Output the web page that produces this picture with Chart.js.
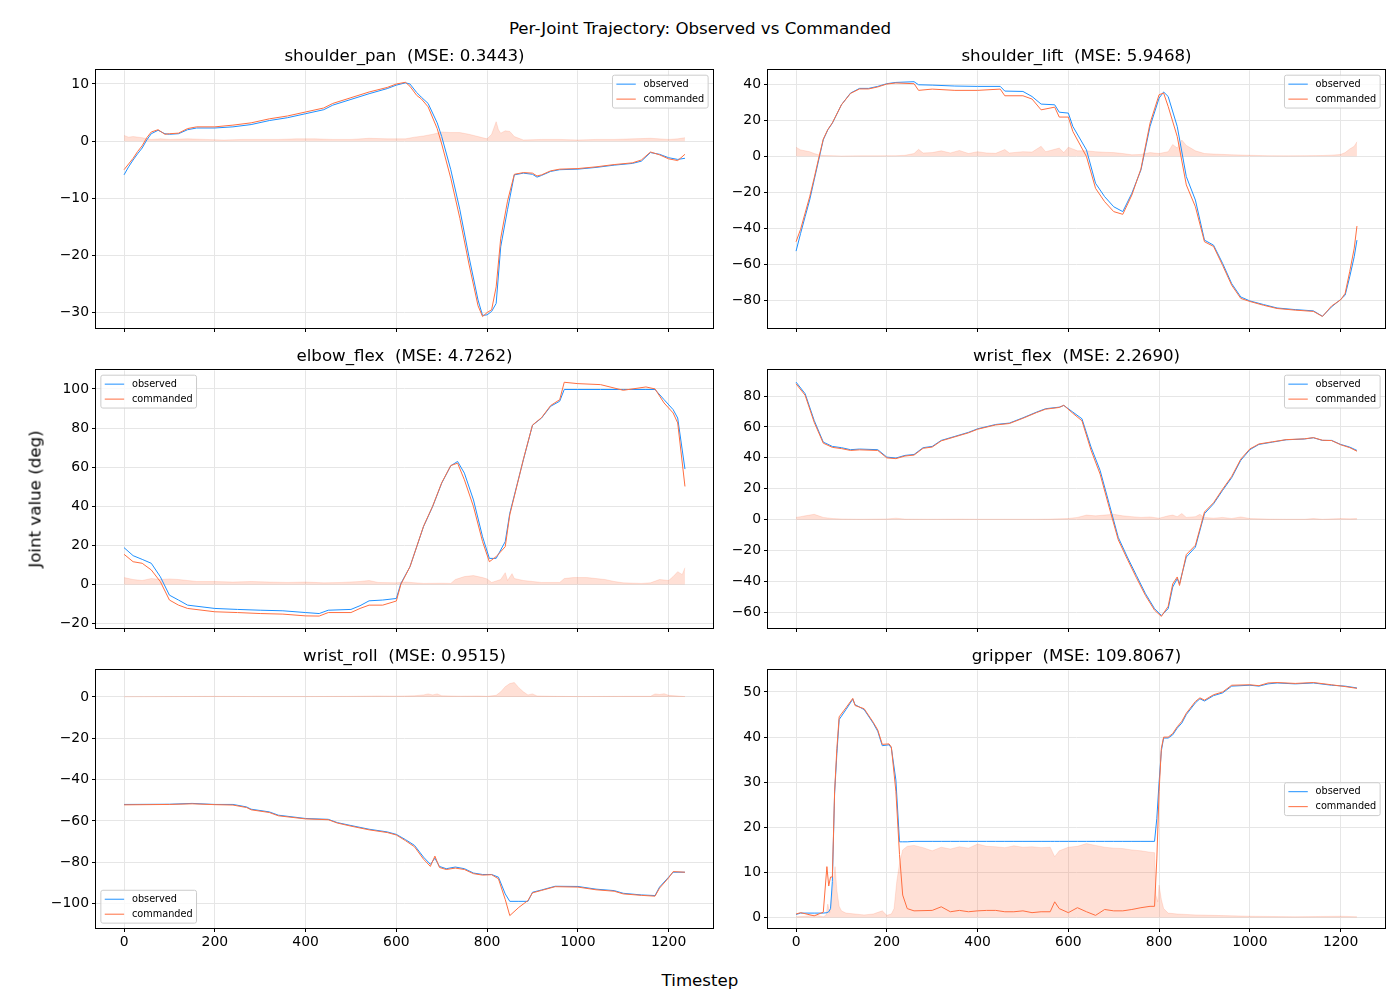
<!DOCTYPE html>
<html>
<head>
<meta charset="utf-8">
<script src="https://cdn.jsdelivr.net/npm/chart.js@4.4.1/dist/chart.umd.min.js"></script>
<style>
body { margin: 0; background: #fff; width: 1400px; height: 1000px; position: relative; overflow: hidden; font-family: "DejaVu Sans", sans-serif; }
canvas { position: absolute; }
.txt { position: absolute; white-space: pre; font-size: 16.67px; color: #000; transform: translate(-50%, -50%); z-index: 5; }
</style>
</head>
<body>
<div class="txt" style="left:700px; top:28px;">Per-Joint Trajectory: Observed vs Commanded</div>
<div class="txt" style="left:700px; top:980px;">Timestep</div>
<div class="txt" style="left:35px; top:499px; transform: translate(-50%, -50%) rotate(-90deg);">Joint value (deg)</div>
<script>
// ---- data ----
const xTicks = [0, 200, 400, 600, 800, 1000, 1200];

const panT = [0, 10, 20, 30, 40, 50, 60, 75, 90, 100, 120, 140, 160, 200, 240, 280, 320, 360, 400, 440, 460, 500, 540, 580, 600, 620, 630, 645, 655, 670, 690, 700, 720, 740, 760, 780, 790, 800, 810, 820, 830, 845, 860, 880, 900, 910, 920, 940, 960, 1000, 1040, 1080, 1120, 1140, 1160, 1180, 1200, 1220, 1236];
const panObs = [-5.9, -4.5, -3.3, -2.2, -1.2, 0.2, 1.3, 1.9, 1.3, 1.2, 1.3, 2.0, 2.3, 2.3, 2.5, 2.9, 3.6, 4.1, 4.8, 5.5, 6.3, 7.3, 8.3, 9.2, 9.8, 10.2, 10.0, 8.5, 7.7, 6.6, 3.2, 0.8, -5.0, -12.0, -20.2, -27.8, -30.5, -30.4, -29.8, -28.4, -18.5, -12.0, -5.9, -5.6, -5.8, -6.3, -6.0, -5.3, -5.0, -4.9, -4.6, -4.2, -3.9, -3.5, -2.0, -2.3, -2.9, -3.2, -3.0];
const panCmd = [-5.0, -4.0, -3.0, -1.8, -0.8, 0.6, 1.6, 2.0, 1.2, 1.3, 1.4, 2.2, 2.5, 2.5, 2.8, 3.2, 3.9, 4.4, 5.1, 5.8, 6.6, 7.6, 8.6, 9.4, 10.0, 10.3, 9.6, 8.0, 7.4, 6.0, 2.2, -0.5, -6.5, -13.5, -21.5, -28.8, -30.7, -30.0, -29.5, -25.5, -17.0, -10.5, -5.8, -5.5, -5.6, -6.1, -5.9, -5.2, -4.9, -4.8, -4.5, -4.1, -3.8, -3.3, -1.9, -2.4, -3.1, -3.4, -2.3];
const panErrT = [0, 10, 20, 40, 60, 80, 100, 140, 180, 220, 260, 300, 340, 380, 420, 460, 500, 540, 580, 620, 640, 660, 680, 700, 720, 740, 760, 780, 800, 810, 820, 825, 830, 840, 850, 860, 880, 920, 960, 1000, 1040, 1080, 1120, 1160, 1200, 1220, 1236];
const panErr = [1.0, 0.7, 0.8, 0.6, 0.3, 0.4, 0.3, 0.4, 0.3, 0.2, 0.3, 0.3, 0.3, 0.4, 0.4, 0.3, 0.3, 0.5, 0.4, 0.4, 0.7, 0.9, 1.2, 1.6, 1.5, 1.5, 1.2, 0.8, 0.4, 1.2, 3.4, 2.0, 1.4, 1.8, 1.7, 0.8, 0.2, 0.3, 0.3, 0.2, 0.3, 0.3, 0.4, 0.5, 0.3, 0.4, 0.6];

const liftT = [0, 10, 20, 30, 40, 50, 60, 70, 80, 100, 120, 140, 160, 180, 200, 220, 260, 270, 300, 350, 400, 450, 460, 500, 520, 540, 570, 580, 600, 610, 640, 660, 680, 700, 720, 740, 760, 780, 800, 810, 820, 840, 860, 880, 900, 920, 940, 960, 980, 1000, 1030, 1060, 1100, 1140, 1160, 1180, 1200, 1210, 1220, 1230, 1236];
const liftObs = [-52.6, -42.8, -33.5, -24.3, -13.1, -2.0, 9.1, 14.6, 18.3, 28.5, 35.0, 37.6, 37.6, 38.7, 40.2, 40.9, 41.3, 39.6, 39.4, 38.9, 38.7, 38.7, 36.1, 35.9, 33.1, 28.9, 28.5, 24.4, 23.9, 16.5, 3.5, -15.0, -22.4, -28.0, -30.7, -20.5, -7.6, 16.5, 32.2, 35.6, 33.1, 16.5, -11.3, -24.3, -46.5, -49.3, -59.4, -70.6, -78.0, -80.2, -82.2, -84.1, -85.0, -85.7, -88.7, -83.5, -79.4, -77.0, -66.9, -55.7, -46.5];
const liftCmd = [-47.4, -40.5, -31.5, -22.5, -12.0, -1.0, 9.5, 14.8, 18.5, 28.5, 34.8, 37.3, 37.3, 38.4, 40.0, 40.6, 40.2, 36.5, 37.2, 36.5, 36.5, 37.2, 33.5, 33.5, 31.7, 25.7, 27.2, 21.7, 21.7, 13.7, -0.2, -17.8, -25.2, -30.7, -32.2, -21.5, -7.0, 18.3, 34.1, 35.0, 27.6, 10.9, -15.9, -28.0, -47.4, -50.0, -60.5, -71.5, -78.8, -80.5, -82.6, -84.4, -85.3, -86.0, -88.8, -83.0, -79.6, -76.0, -64.0, -51.0, -38.7];
const liftErrT = [0, 10, 20, 30, 40, 50, 60, 80, 100, 140, 180, 220, 240, 260, 270, 280, 300, 320, 340, 360, 380, 400, 420, 440, 460, 470, 500, 520, 540, 550, 580, 590, 600, 620, 640, 660, 680, 700, 720, 740, 760, 780, 800, 820, 830, 840, 850, 860, 870, 880, 900, 920, 960, 1000, 1040, 1080, 1120, 1160, 1180, 1200, 1210, 1220, 1230, 1236];
const liftErr = [5.0, 3.5, 3.0, 2.5, 1.5, 0.8, 0.4, 0.3, 0.1, 0.2, 0.2, 0.3, 0.5, 1.5, 3.8, 1.8, 2.0, 3.0, 1.8, 3.2, 1.5, 2.5, 1.8, 1.6, 3.7, 1.8, 2.5, 2.3, 5.5, 2.5, 4.5, 2.0, 5.0, 3.0, 3.0, 2.5, 2.2, 2.0, 1.5, 0.8, 1.0, 2.0, 1.5, 2.5, 6.5, 4.5, 9.0, 6.0, 4.5, 3.0, 1.5, 1.2, 0.8, 0.5, 0.3, 0.2, 0.3, 0.4, 0.6, 1.0, 2.0, 4.0, 5.5, 8.0];

const elbowT = [0, 20, 40, 60, 80, 100, 120, 140, 200, 250, 300, 350, 400, 430, 450, 500, 520, 540, 570, 600, 610, 630, 660, 680, 700, 720, 735, 750, 770, 790, 805, 820, 840, 850, 880, 900, 920, 940, 960, 970, 1000, 1050, 1100, 1150, 1170, 1190, 1210, 1220, 1236];
const elbowObs = [18.8, 14.7, 12.8, 10.8, 3.9, -5.5, -8.0, -10.6, -12.3, -12.8, -13.2, -13.5, -14.4, -14.9, -13.2, -12.8, -10.9, -8.4, -8.0, -7.2, 0.5, 9.0, 29.6, 39.8, 51.8, 60.7, 62.9, 56.9, 43.2, 24.4, 13.3, 13.3, 21.9, 36.4, 63.8, 81.4, 85.1, 91.1, 93.7, 99.7, 99.7, 99.7, 99.7, 99.7, 99.7, 94.5, 89.4, 85.1, 59.0];
const elbowCmd = [15.4, 11.6, 10.8, 7.4, 1.4, -8.0, -10.6, -12.3, -14.0, -14.4, -14.9, -15.2, -16.1, -16.2, -14.4, -14.4, -12.3, -10.6, -10.6, -8.5, 0.0, 9.0, 29.8, 40.0, 52.0, 60.8, 62.0, 53.5, 39.8, 21.9, 11.6, 14.2, 19.3, 35.6, 64.0, 81.5, 85.3, 91.5, 94.5, 103.4, 102.7, 102.2, 99.3, 101.0, 100.0, 92.8, 87.7, 82.6, 50.1];
const elbowErrT = [0, 20, 40, 60, 80, 100, 120, 140, 160, 200, 240, 280, 320, 360, 400, 440, 480, 520, 540, 560, 600, 620, 660, 700, 720, 730, 750, 770, 790, 800, 810, 830, 840, 845, 855, 860, 880, 900, 920, 960, 970, 990, 1020, 1040, 1060, 1080, 1100, 1140, 1160, 1180, 1200, 1210, 1220, 1230, 1236];
const elbowErr = [3.5, 2.5, 2.0, 3.0, 2.5, 2.8, 2.5, 2.0, 1.5, 1.5, 1.2, 1.5, 1.2, 1.0, 1.2, 0.8, 1.0, 1.5, 2.0, 1.0, 0.8, 1.2, 0.5, 0.6, 0.5, 2.5, 4.0, 4.5, 3.5, 2.8, 1.0, 2.5, 6.0, 2.0, 5.5, 3.0, 2.0, 1.5, 1.0, 1.0, 3.0, 3.5, 3.5, 3.0, 2.5, 1.5, 0.8, 0.5, 0.8, 2.5, 2.0, 4.0, 6.5, 5.0, 8.5];

const wflexT = [0, 20, 40, 60, 80, 100, 120, 140, 180, 200, 220, 240, 260, 280, 300, 320, 350, 380, 400, 440, 470, 500, 530, 550, 580, 590, 610, 630, 650, 670, 690, 710, 730, 750, 770, 790, 805, 820, 830, 840, 845, 860, 880, 900, 920, 940, 960, 980, 1000, 1020, 1050, 1080, 1120, 1140, 1160, 1180, 1200, 1220, 1236];
const wflexObs = [89.0, 81.5, 64.2, 50.2, 47.4, 46.6, 45.3, 45.7, 45.3, 40.5, 39.9, 41.6, 42.2, 46.6, 47.4, 51.3, 53.9, 56.5, 58.8, 61.6, 62.5, 65.9, 69.6, 71.8, 72.8, 73.9, 69.6, 65.3, 47.0, 31.9, 10.3, -11.4, -24.1, -36.0, -47.8, -57.5, -61.9, -57.5, -43.5, -38.1, -41.4, -24.1, -17.7, 3.9, 10.3, 19.0, 27.2, 38.4, 45.3, 48.7, 50.2, 51.7, 52.2, 53.0, 51.3, 51.3, 48.7, 47.0, 44.8];
const wflexCmd = [87.9, 80.5, 63.0, 49.5, 46.8, 46.0, 44.8, 45.2, 44.8, 40.0, 39.5, 41.2, 41.8, 46.2, 47.0, 51.0, 53.6, 56.2, 58.5, 61.3, 62.2, 65.6, 69.3, 71.5, 72.6, 74.0, 68.8, 64.0, 45.0, 29.5, 8.0, -13.0, -25.5, -37.5, -49.0, -58.5, -62.5, -56.0, -41.5, -37.0, -42.5, -22.5, -16.5, 5.0, 11.0, 19.8, 28.0, 39.2, 45.8, 49.0, 50.4, 51.8, 52.3, 53.1, 51.4, 51.2, 48.5, 46.6, 44.3];
const wflexErrT = [0, 10, 20, 30, 40, 50, 60, 80, 100, 140, 200, 220, 240, 300, 360, 400, 460, 520, 560, 600, 620, 640, 660, 680, 700, 720, 740, 760, 780, 800, 820, 830, 840, 850, 860, 880, 890, 900, 920, 940, 960, 980, 1000, 1040, 1080, 1120, 1140, 1160, 1200, 1220, 1236];
const wflexErr = [1.5, 2.0, 2.5, 3.0, 3.5, 2.5, 1.5, 0.8, 0.5, 0.3, 0.5, 1.0, 0.4, 0.3, 0.4, 0.3, 0.3, 0.3, 0.4, 0.8, 1.5, 3.0, 2.5, 3.0, 3.5, 2.5, 2.0, 1.5, 1.8, 1.0, 2.5, 3.0, 2.0, 4.0, 1.5, 2.0, 3.5, 1.5, 1.0, 1.5, 0.8, 1.8, 0.8, 0.4, 0.3, 0.3, 0.8, 0.3, 0.8, 0.6, 0.8];

const wrollT = [0, 100, 150, 200, 240, 270, 280, 320, 340, 400, 450, 470, 500, 540, 580, 600, 620, 640, 660, 675, 685, 695, 710, 730, 750, 770, 790, 810, 825, 840, 850, 870, 890, 900, 920, 950, 1000, 1040, 1080, 1100, 1140, 1170, 1180, 1200, 1210, 1236];
const wrollObs = [-52.0, -51.9, -51.5, -52.0, -52.0, -53.2, -54.3, -55.6, -57.2, -58.8, -59.2, -60.8, -62.2, -64.0, -65.3, -66.5, -69.0, -71.8, -77.5, -81.0, -78.0, -82.0, -83.1, -82.3, -83.1, -85.2, -85.9, -85.9, -87.2, -95.3, -98.9, -98.9, -98.9, -94.5, -93.4, -91.6, -91.7, -93.0, -93.7, -95.0, -95.8, -96.1, -92.0, -87.2, -84.8, -84.8];
const wrollCmd = [-52.2, -52.0, -51.7, -52.1, -52.3, -53.5, -54.6, -55.9, -57.5, -59.0, -59.4, -61.0, -62.5, -64.3, -65.6, -66.8, -69.5, -72.5, -78.5, -82.0, -77.0, -82.5, -83.5, -82.8, -83.5, -85.5, -86.2, -86.0, -88.0, -98.0, -105.8, -101.8, -98.5, -94.8, -93.6, -91.8, -92.0, -93.3, -94.0, -95.3, -96.0, -96.4, -92.5, -87.5, -84.5, -84.8];
const wrollErrT = [0, 100, 200, 300, 400, 500, 560, 600, 640, 660, 670, 680, 690, 700, 740, 780, 800, 820, 830, 840, 850, 860, 870, 880, 890, 900, 910, 950, 1000, 1100, 1160, 1170, 1180, 1190, 1200, 1236];
const wrollErr = [0.1, 0.2, 0.3, 0.2, 0.2, 0.3, 0.5, 0.4, 0.6, 1.0, 1.5, 1.0, 1.5, 0.6, 0.4, 0.5, 0.3, 0.8, 2.5, 5.0, 6.5, 7.0, 4.5, 2.5, 1.0, 1.5, 0.5, 0.3, 0.2, 0.3, 0.3, 1.5, 1.2, 1.6, 0.8, 0.2];

const gripT = [0, 10, 40, 60, 68, 72, 76, 80, 85, 90, 95, 110, 125, 130, 150, 170, 180, 190, 205, 210, 220, 228, 235, 245, 260, 300, 320, 340, 360, 380, 400, 420, 440, 460, 480, 500, 520, 540, 560, 570, 580, 600, 620, 640, 660, 680, 700, 720, 740, 760, 780, 790, 795, 800, 805, 810, 820, 830, 840, 850, 860, 880, 890, 900, 920, 940, 960, 1000, 1020, 1040, 1060, 1100, 1140, 1180, 1210, 1236];
const gripObs = [0.7, 1.0, 1.0, 1.0, 1.1, 1.3, 2.0, 8.0, 27.6, 36.4, 43.9, 46.1, 48.4, 47.2, 46.1, 43.1, 41.3, 38.1, 38.3, 37.6, 30.5, 16.8, 16.8, 16.8, 16.9, 16.9, 16.9, 16.9, 16.9, 16.9, 16.9, 16.9, 16.9, 16.9, 16.9, 16.9, 16.9, 16.9, 16.9, 16.9, 16.9, 16.9, 16.9, 16.9, 16.9, 16.9, 16.9, 16.9, 16.9, 16.9, 16.9, 16.9, 22.0, 30.0, 37.0, 39.8, 39.8, 40.5, 42.0, 43.1, 45.0, 47.6, 48.5, 48.0, 49.2, 49.8, 51.3, 51.5, 51.3, 51.8, 52.0, 51.8, 52.0, 51.5, 51.3, 50.9];
const gripCmd = [0.8, 1.1, 0.4, 1.2, 11.3, 7.0, 9.0, 9.0, 28.0, 37.5, 44.5, 46.5, 48.6, 47.0, 46.3, 43.3, 41.6, 38.4, 38.5, 37.8, 28.0, 14.0, 5.0, 2.0, 1.5, 1.6, 2.4, 1.3, 1.6, 1.3, 1.5, 1.6, 1.6, 1.3, 1.3, 1.5, 1.1, 1.3, 1.3, 3.5, 2.0, 1.1, 2.2, 1.3, 0.5, 1.8, 1.5, 1.5, 1.8, 2.2, 2.5, 2.5, 13.0, 28.0, 37.5, 40.0, 40.0, 40.8, 42.3, 43.5, 45.3, 47.9, 48.7, 48.2, 49.4, 50.0, 51.5, 51.6, 51.4, 52.0, 52.1, 51.9, 52.1, 51.6, 51.2, 50.8];
const gripErrT = [0, 20, 40, 60, 66, 70, 74, 78, 82, 86, 90, 95, 100, 110, 130, 150, 170, 190, 200, 210, 216, 222, 228, 235, 245, 260, 280, 300, 320, 340, 360, 380, 400, 420, 440, 460, 480, 500, 520, 540, 560, 570, 580, 600, 620, 640, 660, 680, 700, 720, 740, 760, 780, 790, 793, 797, 800, 805, 810, 820, 840, 880, 920, 960, 1000, 1100, 1200, 1236];
const gripErr = [0.2, 0.3, 0.6, 0.2, 0.5, 3.0, 1.0, 4.0, 8.0, 11.3, 6.0, 2.5, 1.5, 1.0, 0.8, 0.6, 0.8, 1.5, 0.5, 0.8, 2.0, 8.0, 12.0, 15.0, 15.8, 16.0, 15.5, 14.8, 15.6, 15.2, 15.7, 15.4, 16.3, 15.8, 15.7, 15.5, 15.9, 15.6, 15.7, 15.5, 15.6, 13.5, 14.8, 15.6, 15.8, 16.4, 16.0, 15.6, 15.4, 15.3, 15.0, 14.8, 14.5, 14.4, 5.0, 3.5, 7.2, 4.0, 2.0, 1.0, 0.8, 0.6, 0.5, 0.4, 0.3, 0.2, 0.3, 0.2];

const BLUE = '#1E90FF';
const ORANGE = '#FF6E40';
const FILL = 'rgba(255,112,67,0.22)';
const FONT = '"DejaVu Sans", sans-serif';

const colL = [96, 768];
const rowT = [70, 370, 670];
const AW = 617, AH = 258;
const YW = 60, PADT = 4, PADR = 6, XH = 30;

const panels = [
  { title: 'shoulder_pan  (MSE: 0.3443)', t: panT, obs: panObs, cmd: panCmd, et: panErrT, err: panErr, yMin: -32.7, yMax: 12.39, yTicks: [-30, -20, -10, 0, 10], loc: 'upper right', col: 0, row: 0 },
  { title: 'shoulder_lift  (MSE: 5.9468)', t: liftT, obs: liftObs, cmd: liftCmd, et: liftErrT, err: liftErr, yMin: -95.2, yMax: 47.6, yTicks: [-80, -60, -40, -20, 0, 20, 40], loc: 'upper right', col: 1, row: 0 },
  { title: 'elbow_flex  (MSE: 4.7262)', t: elbowT, obs: elbowObs, cmd: elbowCmd, et: elbowErrT, err: elbowErr, yMin: -22.3, yMax: 109.5, yTicks: [-20, 0, 20, 40, 60, 80, 100], loc: 'upper left', col: 0, row: 1 },
  { title: 'wrist_flex  (MSE: 2.2690)', t: wflexT, obs: wflexObs, cmd: wflexCmd, et: wflexErrT, err: wflexErr, yMin: -70, yMax: 96.6, yTicks: [-60, -40, -20, 0, 20, 40, 60, 80], loc: 'upper right', col: 1, row: 1 },
  { title: 'wrist_roll  (MSE: 0.9515)', t: wrollT, obs: wrollObs, cmd: wrollCmd, et: wrollErrT, err: wrollErr, yMin: -111.8, yMax: 12.9, yTicks: [-100, -80, -60, -40, -20, 0], loc: 'lower left', col: 0, row: 2 },
  { title: 'gripper  (MSE: 109.8067)', t: gripT, obs: gripObs, cmd: gripCmd, et: gripErrT, err: gripErr, yMin: -2.3, yMax: 54.8, yTicks: [0, 10, 20, 30, 40, 50], loc: 'center right', col: 1, row: 2 },
];

function pts(xs, ys) { return xs.map((x, i) => ({ x: x, y: ys[i] })); }
function fmt(v) { return v < 0 ? '\u2212' + Math.abs(v) : String(v); }

const framePlugin = {
  id: 'frame',
  afterDraw(chart) {
    const { ctx, chartArea: a } = chart;
    ctx.save();
    ctx.strokeStyle = '#000';
    ctx.lineWidth = 1;
    ctx.strokeRect(Math.round(a.left) - 0.5, Math.round(a.top) - 0.5, Math.round(a.right - a.left) + 1, Math.round(a.bottom - a.top) + 1);
    ctx.restore();

    // legend box, matplotlib style
    const loc = chart.options.plugins.miniLegend.loc;
    const fs = 9.72, pad = 3.9, hl = 19.4, htp = 7.8, rowH = 10.1, sp = 4.86, bap = 4.86;
    ctx.save();
    ctx.font = fs + 'px ' + FONT;
    const items = chart.data.datasets.slice(0, 2);
    const tw = Math.max(...items.map(d => ctx.measureText(d.label).width));
    const bw = pad + hl + htp + tw + pad;
    const bh = pad * 2 + rowH * 2 + sp;
    let bx = loc.includes('left') ? a.left + bap : a.right - bap - bw;
    let by;
    if (loc.startsWith('upper')) by = a.top + bap;
    else if (loc.startsWith('lower')) by = a.bottom - bap - bh;
    else by = (a.top + a.bottom) / 2 - bh / 2;
    ctx.beginPath();
    if (ctx.roundRect) ctx.roundRect(bx, by, bw, bh, 2); else ctx.rect(bx, by, bw, bh);
    ctx.fillStyle = 'rgba(255,255,255,0.8)';
    ctx.fill();
    ctx.strokeStyle = '#cccccc';
    ctx.lineWidth = 1;
    ctx.stroke();
    items.forEach((d, i) => {
      const cy = by + pad + rowH / 2 + i * (rowH + sp);
      ctx.beginPath();
      ctx.moveTo(bx + pad, cy);
      ctx.lineTo(bx + pad + hl, cy);
      ctx.strokeStyle = d.borderColor;
      ctx.lineWidth = 1;
      ctx.stroke();
      ctx.fillStyle = '#000';
      ctx.textBaseline = 'middle';
      ctx.textAlign = 'left';
      ctx.fillText(d.label, bx + pad + hl + htp, cy);
    });
    ctx.restore();
  }
};

function build(p, extra) {
  const axL = colL[p.col], axT = rowT[p.row];
  const cv = document.createElement('canvas');
  cv.width = YW + AW + PADR;
  cv.height = PADT + extra + AH + XH;
  cv.style.left = (axL - YW) + 'px';
  cv.style.top = (axT - PADT - extra) + 'px';
  document.body.appendChild(cv);

  const tickFont = { family: FONT, size: 13.9 };
  return new Chart(cv.getContext('2d'), {
    type: 'line',
    data: {
      datasets: [
        { label: 'observed', data: pts(p.t, p.obs), borderColor: BLUE, borderWidth: 1, order: 1 },
        { label: 'commanded', data: pts(p.t, p.cmd), borderColor: ORANGE, borderWidth: 1, order: 0 },
        { label: 'error', data: pts(p.et, p.err), borderColor: FILL, backgroundColor: FILL, borderWidth: 0.8, fill: 'origin', order: 2 },
      ]
    },
    options: {
      responsive: false,
      animation: false,
      devicePixelRatio: 1,
      layout: { padding: { left: 0, top: PADT, right: PADR, bottom: 0 }, autoPadding: false },
      elements: { point: { radius: 0 }, line: { tension: 0 } },
      plugins: { legend: { display: false }, tooltip: { enabled: false }, miniLegend: { loc: p.loc } },
      scales: {
        x: {
          type: 'linear', min: -61.8, max: 1297.8,
          afterBuildTicks: s => { s.ticks = xTicks.map(v => ({ value: v })); },
          afterFit: s => { s.height = XH; },
          ticks: { display: p.row === 2, color: '#000', font: tickFont, padding: 2, maxRotation: 0, autoSkip: false, callback: v => fmt(v) },
          grid: { color: '#e6e6e6', lineWidth: 1, tickLength: 4, tickColor: '#000', tickWidth: 1 },
          border: { display: false }
        },
        y: {
          type: 'linear', min: p.yMin, max: p.yMax,
          afterBuildTicks: s => { s.ticks = p.yTicks.map(v => ({ value: v })); },
          afterFit: s => { s.width = YW; },
          ticks: { color: '#000', font: tickFont, padding: 3, autoSkip: false, callback: v => fmt(v) },
          grid: { color: '#e6e6e6', lineWidth: 1, tickLength: 4, tickColor: '#000', tickWidth: 1 },
          border: { display: false }
        }
      }
    },
    plugins: [framePlugin]
  });
}

panels.forEach(p => {
  // first pass measures the extra top space Chart.js reserves, second pass compensates it
  let chart = build(p, 0);
  const extra = Math.round(chart.chartArea.top - PADT);
  if (extra > 0) {
    const c = chart.canvas;
    chart.destroy();
    c.remove();
    chart = build(p, extra);
  }

  const axL = colL[p.col], axT = rowT[p.row];
  const t = document.createElement('div');
  t.className = 'txt';
  t.textContent = p.title;
  t.style.left = (axL + AW / 2) + 'px';
  t.style.top = (axT - 15) + 'px';
  document.body.appendChild(t);
});
</script>
</body>
</html>
